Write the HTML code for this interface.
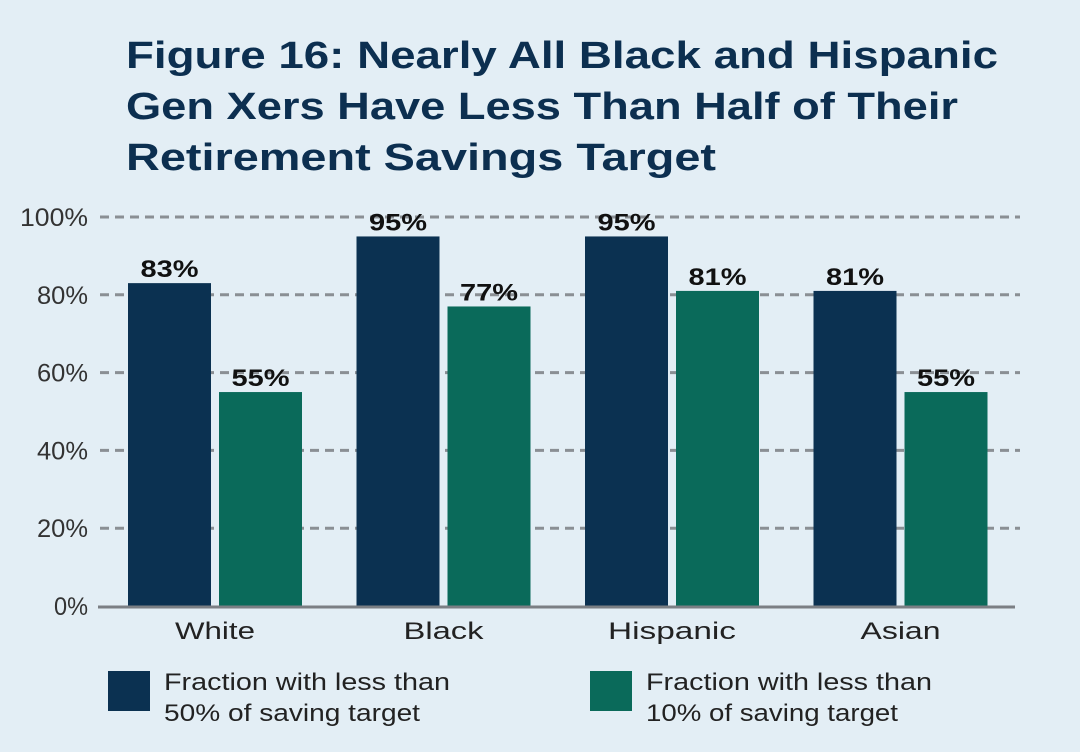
<!DOCTYPE html>
<html><head><meta charset="utf-8"><style>
body{margin:0;width:1080px;height:747px;background:#e3eef5;font-family:"Liberation Sans",sans-serif;overflow:hidden}
</style></head><body>
<svg width="1080" height="747" id="c">
<g font-weight="bold" font-size="38" fill="#0c2f50">
<text x="126" y="68" textLength="872" lengthAdjust="spacingAndGlyphs">Figure 16: Nearly All Black and Hispanic</text>
<text x="126" y="119" textLength="832" lengthAdjust="spacingAndGlyphs">Gen Xers Have Less Than Half of Their</text>
<text x="126" y="170" textLength="590" lengthAdjust="spacingAndGlyphs">Retirement Savings Target</text>
</g>
<g id="grid"></g><g id="bars"></g>
<g font-size="24" fill="#222">
<rect x="108" y="671" width="42" height="40" fill="#0b3151"/>
<text x="164" y="690" textLength="286" lengthAdjust="spacingAndGlyphs">Fraction with less than</text><text x="164" y="721" textLength="256" lengthAdjust="spacingAndGlyphs">50% of saving target</text>
<rect x="590" y="671" width="42" height="40" fill="#0a6a5a"/>
<text x="646" y="690" textLength="286" lengthAdjust="spacingAndGlyphs">Fraction with less than</text><text x="646" y="721" textLength="252" lengthAdjust="spacingAndGlyphs">10% of saving target</text>
</g>
</svg>
<script>
const categories=["White","Black","Hispanic","Asian"];
const below50=[83,95,95,81];
const below10=[55,77,81,55];
const ticks=[0,20,40,60,80,100];
const NS="http://www.w3.org/2000/svg";
const y0=606,y100=217;
const y=v=>y0-(y0-y100)*v/100;
const g=document.getElementById('grid'),b=document.getElementById('bars');
function mk(tag,at,par,txt){const e=document.createElementNS(NS,tag);for(const k in at)e.setAttribute(k,at[k]);if(txt!==undefined)e.textContent=txt;par.appendChild(e);return e;}
ticks.forEach(t=>{
 if(t>0){const l=mk('line',{x1:100,x2:1020,y1:y(t),y2:y(t),stroke:'#8a8f94','stroke-width':3,'stroke-dasharray':'9,6'},g);
 
 }
 const s=t+'%';
 const tx=mk('text',{x:88,y:y(t)+9,'text-anchor':'end','font-size':25,fill:'#333',textLength:s.length*17,lengthAdjust:'spacingAndGlyphs'},g,s);
 
 
});
const bw=83,start=128,step=228.5;
categories.forEach((c,i)=>{
 const x=start+i*step;
 [[below50[i],x,'#0b3151'],[below10[i],x+91,'#0a6a5a']].forEach((d,j)=>{
  const r=mk('rect',{x:d[1],y:y(d[0]),width:bw,height:y0-y(d[0]),fill:d[2]},b);
  
  
  const t=mk('text',{x:d[1]+bw/2,y:y(d[0])-6,'text-anchor':'middle','font-size':24,'font-weight':'bold',fill:'#111',textLength:58,lengthAdjust:'spacingAndGlyphs'},b,d[0]+'%');
  
  
 });
 const ct=mk('text',{x:x+87,y:639,'text-anchor':'middle','font-size':24,fill:'#222',textLength:c.length*16,lengthAdjust:'spacingAndGlyphs'},b,c);
 
 
});
const base=mk('line',{x1:98,x2:1015,y1:y0+1,y2:y0+1,stroke:'#7b7f84','stroke-width':3},b);


</script>
</body></html>
